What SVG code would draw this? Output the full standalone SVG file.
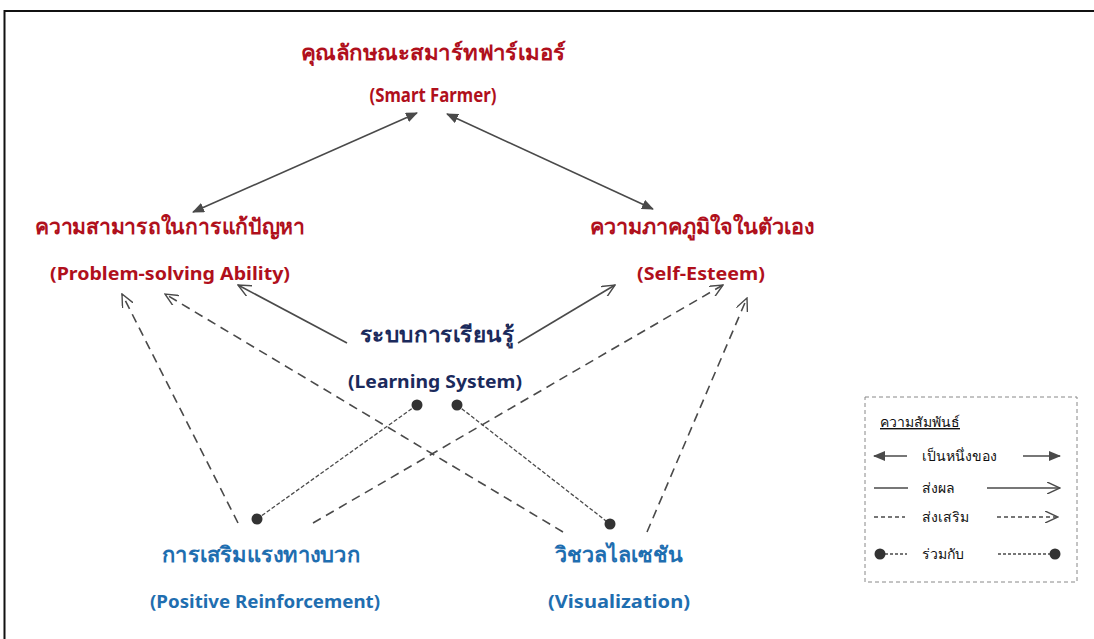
<svg xmlns="http://www.w3.org/2000/svg" width="1094" height="639" viewBox="0 0 1094 639">
<defs>
<style>
.red{fill:#b0101c;font-family:"Noto Sans","DejaVu Sans",sans-serif;font-weight:bold;text-anchor:middle}
.navy{fill:#1b2a5c;font-family:"Noto Sans","DejaVu Sans",sans-serif;font-weight:bold;text-anchor:middle}
.blue{fill:#1f6eb0;font-family:"Noto Sans","DejaVu Sans",sans-serif;font-weight:bold;text-anchor:middle}
.th{font-size:21.5px}
.en{font-size:18.5px}
.leg{fill:#111;font-family:"Noto Sans","DejaVu Sans",sans-serif;font-size:14px}
.ln{stroke:#4a4a4a;stroke-width:1.6;fill:none}
.dash{stroke-dasharray:9 6}
.dot{stroke-dasharray:4 2;stroke-width:1.3}
</style>
<marker id="fa" viewBox="0 0 12 10" refX="11" refY="5" markerWidth="12" markerHeight="10" markerUnits="userSpaceOnUse" orient="auto-start-reverse">
<path d="M0,0 L12,5 L0,10 Z" fill="#4a4a4a"/>
</marker>
<marker id="oa" viewBox="0 0 14 12" refX="13" refY="6" markerWidth="14" markerHeight="12" markerUnits="userSpaceOnUse" orient="auto">
<path d="M0,0 L13,6 L0,12" fill="none" stroke="#4a4a4a" stroke-width="1.4"/>
</marker>
<marker id="dt" viewBox="0 0 12 12" refX="6" refY="6" markerWidth="12" markerHeight="12" markerUnits="userSpaceOnUse">
<circle cx="6" cy="6" r="5.5" fill="#333"/>
</marker>
</defs>
<rect x="0" y="0" width="1094" height="639" fill="#fff"/>
<path d="M4.5,639 V11 H1094" fill="none" stroke="#111" stroke-width="2"/>

<g id="connectors">
<line class="ln" x1="417" y1="113" x2="193" y2="212" marker-start="url(#fa)" marker-end="url(#fa)"/>
<line class="ln" x1="447" y1="114" x2="653" y2="209" marker-start="url(#fa)" marker-end="url(#fa)"/>
<line class="ln" x1="347" y1="343" x2="238" y2="285" marker-end="url(#oa)"/>
<line class="ln" x1="518" y1="343" x2="615" y2="285" marker-end="url(#oa)"/>
<line class="ln dash" x1="238" y1="523" x2="122" y2="294" marker-end="url(#oa)"/>
<line class="ln dash" x1="563" y1="532" x2="165" y2="294" marker-end="url(#oa)"/>
<line class="ln dash" x1="313" y1="523" x2="723" y2="285" marker-end="url(#oa)"/>
<line class="ln dash" x1="647" y1="532" x2="747" y2="298" marker-end="url(#oa)"/>
<line class="ln dot" x1="257" y1="519" x2="417" y2="405" marker-start="url(#dt)" marker-end="url(#dt)"/>
<line class="ln dot" x1="457" y1="405" x2="610" y2="524" marker-start="url(#dt)" marker-end="url(#dt)"/>
</g>

<g id="smart-farmer">
<text class="red th" x="433" y="60" textLength="265" lengthAdjust="spacingAndGlyphs">คุณลักษณะสมาร์ทฟาร์เมอร์</text>
<text class="red en" x="433" y="102" style="font-size:19px" textLength="127" lengthAdjust="spacingAndGlyphs">(Smart Farmer)</text>
</g>
<g id="problem-solving">
<text class="red th" x="170" y="234" textLength="270" lengthAdjust="spacingAndGlyphs">ความสามารถในการแก้ปัญหา</text>
<text class="red en" x="170" y="280" textLength="240" lengthAdjust="spacingAndGlyphs">(Problem-solving Ability)</text>
</g>
<g id="self-esteem">
<text class="red th" x="702" y="234" textLength="225" lengthAdjust="spacingAndGlyphs">ความภาคภูมิใจในตัวเอง</text>
<text class="red en" x="701" y="280" textLength="128" lengthAdjust="spacingAndGlyphs">(Self-Esteem)</text>
</g>
<g id="learning-system">
<text class="navy th" x="437" y="342" textLength="155" lengthAdjust="spacingAndGlyphs">ระบบการเรียนรู้</text>
<text class="navy en" x="435" y="388" textLength="174" lengthAdjust="spacingAndGlyphs">(Learning System)</text>
</g>
<g id="positive-reinforcement">
<text class="blue th" x="261" y="562" textLength="198" lengthAdjust="spacingAndGlyphs">การเสริมแรงทางบวก</text>
<text class="blue en" x="265" y="608" textLength="230" lengthAdjust="spacingAndGlyphs">(Positive Reinforcement)</text>
</g>
<g id="visualization">
<text class="blue th" x="619" y="562" textLength="128" lengthAdjust="spacingAndGlyphs">วิชวลไลเซชัน</text>
<text class="blue en" x="619" y="608" textLength="142" lengthAdjust="spacingAndGlyphs">(Visualization)</text>
</g>

<g id="legend">
<rect x="865" y="397" width="212" height="185" fill="none" stroke="#888" stroke-width="1" stroke-dasharray="4 3"/>
<text class="leg" x="880" y="427" text-decoration="underline">ความสัมพันธ์</text>
<line class="ln" x1="907" y1="456" x2="874" y2="456" marker-end="url(#fa)"/>
<text class="leg" x="922" y="461">เป็นหนึ่งของ</text>
<line class="ln" x1="1023" y1="456" x2="1060" y2="456" marker-end="url(#fa)"/>
<line class="ln" x1="874" y1="488" x2="908" y2="488"/>
<text class="leg" x="922" y="493">ส่งผล</text>
<line class="ln" x1="987" y1="488" x2="1060" y2="488" marker-end="url(#oa)"/>
<line class="ln" x1="874" y1="517" x2="905" y2="517" stroke-dasharray="4 3" stroke-width="1.2"/>
<text class="leg" x="922" y="522">ส่งเสริม</text>
<line class="ln" x1="997" y1="517" x2="1058" y2="517" stroke-dasharray="4 3" stroke-width="1.2" marker-end="url(#oa)"/>
<line class="ln" x1="880" y1="554" x2="907" y2="554" stroke-dasharray="3 2" stroke-width="1.2" marker-start="url(#dt)"/>
<text class="leg" x="922" y="559">ร่วมกับ</text>
<line class="ln" x1="998" y1="554" x2="1055" y2="554" stroke-dasharray="3 2" stroke-width="1.2" marker-end="url(#dt)"/>
</g>
</svg>
